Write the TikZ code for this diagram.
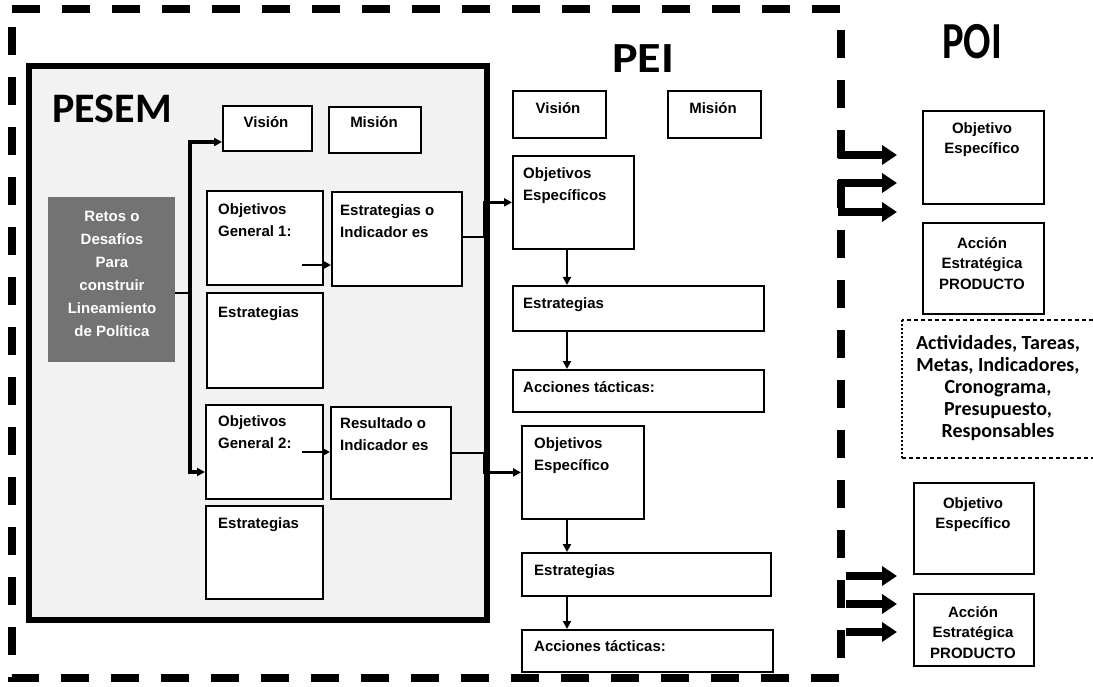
\documentclass[tikz,border=0pt]{standalone}
\usepackage{fontspec}
\setmainfont{Liberation Sans}
\newfontfamily\titlefont{Carlito}
\usetikzlibrary{arrows.meta}
\begin{document}
\begin{tikzpicture}[x=1pt,y=-1pt,
  box/.style={draw, line width=1.8pt, fill=white, anchor=north west, inner sep=0pt},
  lbl/.style={font=\bfseries\fontsize{15}{22}\selectfont, align=left, inner sep=0pt, anchor=north west},
  clbl/.style={font=\bfseries\fontsize{15}{20.5}\selectfont, align=center, inner sep=0pt, anchor=north},
  conn/.style={line width=2.5pt, -{Triangle[length=8pt,width=8pt]}},
  plain/.style={line width=2.5pt},
  block/.style={line width=8pt, -{Triangle[length=15pt,width=19pt]}},
  ttl/.style={font=\titlefont\bfseries, inner sep=0pt, anchor=base west}
]
\useasboundingbox (0,0) rectangle (1093,687);

% outer dashed frame
\draw[line width=8pt, dash pattern=on 28pt off 22pt] (12,9) -- (841,9) -- (841,678) -- (12,678) -- cycle;

% PESEM frame
\node[draw, line width=6pt, fill=gray!10, minimum width=458pt, minimum height=554pt, anchor=north west, inner sep=0pt] (pesem) at (26,63) {};
\node[ttl, font=\titlefont\bfseries\fontsize{42}{42}\selectfont] (pesemt) at (52,123) {PESEM};

% Retos box
\node[fill=black!55, minimum width=127pt, minimum height=165pt, anchor=north west, inner sep=0pt] (retos) at (48,197) {};
\node[font=\bfseries\fontsize{15}{23}\selectfont, align=center, text=white, inner sep=0pt] (retost) at (112,274) {Retos o\\Desafíos\\Para\\construir\\Lineamiento\\de Política};

% PESEM boxes
\node[box, minimum width=89pt, minimum height=45pt] (pvis) at (222,105) {};
\node[box, minimum width=92pt, minimum height=46pt] (pmis) at (328,106) {};
\node[box, minimum width=116pt, minimum height=94pt] (og1) at (206,190) {};
\node[box, minimum width=130pt, minimum height=94pt] (est1) at (331,191) {};
\node[box, minimum width=116pt, minimum height=95pt] (estA) at (206,292) {};
\node[box, minimum width=117pt, minimum height=94pt] (og2) at (205,404) {};
\node[box, minimum width=120pt, minimum height=92pt] (res) at (330,406) {};
\node[box, minimum width=117pt, minimum height=93pt] (estB) at (205,505) {};

\node[clbl] (pvist) at (266,116) {Visión};
\node[clbl] (pmist) at (374,116) {Misión};
\node[lbl] (og1t) at (218,203) {Objetivos\\General 1:};
\node[lbl] (est1t) at (340,204) {Estrategias o\\Indicador es};
\node[lbl] (estAt) at (218,306) {Estrategias};
\node[lbl] (og2t) at (218,415) {Objetivos\\General 2:};
\node[lbl] (rest) at (340,417) {Resultado o\\Indicador es};
\node[lbl] (estBt) at (218,517) {Estrategias};

% PESEM connectors
\coordinate (vtop) at (190,142);
\coordinate (vj) at (190,293);
\coordinate (vbot) at (190,472);
\draw[plain] (retos.east |- vj) -- (vj);
\draw[conn, line width=3.5pt] (vj) -- (vtop) -- (pvis.west |- vtop);
\draw[conn, line width=3.5pt] (vj) -- (vbot) -- (og2.west |- vbot);
\coordinate (a1) at (302,265);
\draw[conn] (a1) -- (est1.west |- a1);
\coordinate (a2) at (302,452);
\draw[conn] (a2) -- (res.west |- a2);

% PEI
\node[ttl, font=\titlefont\bfseries\fontsize{43}{43}\selectfont] (peit) at (612,73) {\scalebox{1.12}[1]{PEI}};
\node[box, minimum width=93pt, minimum height=47pt] (evis) at (512,90) {};
\node[box, minimum width=93pt, minimum height=47pt] (emis) at (667,90) {};
\node[box, minimum width=121pt, minimum height=93pt] (oe1) at (512,155) {};
\node[box, minimum width=251pt, minimum height=45pt] (pest1) at (512,285) {};
\node[box, minimum width=251pt, minimum height=42pt] (pact1) at (512,369) {};
\node[box, minimum width=122pt, minimum height=93pt] (oe2) at (521,425) {};
\node[box, minimum width=249pt, minimum height=43pt] (pest2) at (521,552) {};
\node[box, minimum width=251pt, minimum height=42pt] (pact2) at (521,629) {};

\node[clbl] (evist) at (558,102) {Visión};
\node[clbl] (emist) at (713,102) {Misión};
\node[lbl] (oe1t) at (523,167) {Objetivos\\Específicos};
\node[lbl] (pest1t) at (523,297) {Estrategias};
\node[lbl] (pact1t) at (523,381) {Acciones tácticas:};
\node[lbl] (oe2t) at (534,437) {Objetivos\\Específico};
\node[lbl] (pest2t) at (534,564) {Estrategias};
\node[lbl] (pact2t) at (534,640) {Acciones tácticas:};

\coordinate (c1) at (484,237);
\draw[plain] (est1.east |- c1) -- (c1);
\draw[conn] (c1) |- (oe1.west);
\coordinate (c2) at (484,453);
\draw[plain] (res.east |- c2) -- (c2);
\draw[conn] (c2) |- (oe2.west);

\coordinate (x1) at (567,0);
\draw[conn] (oe1.south -| x1) -- (pest1.north -| x1);
\draw[conn] (pest1.south -| x1) -- (pact1.north -| x1);
\draw[conn] (oe2.south -| x1) -- (pest2.north -| x1);
\draw[conn] (pest2.south -| x1) -- (pact2.north -| x1);

% POI
\node[ttl, font=\titlefont\bfseries\fontsize{52}{52}\selectfont] (poit) at (942,59) {\scalebox{0.78}[1]{POI}};
\node[box, minimum width=121pt, minimum height=93pt] (poi1) at (922,110) {};
\node[box, minimum width=121pt, minimum height=91pt] (acc1) at (922,222) {};
\node[box, minimum width=120pt, minimum height=91pt] (poi2) at (913,482) {};
\node[box, minimum width=120pt, minimum height=72pt] (acc2) at (913,593) {};

\node[clbl] (poi1t) at (982,122) {Objetivo\\Específico};
\node[clbl] (acc1t) at (982,237) {Acción\\Estratégica\\PRODUCTO};
\node[clbl] (poi2t) at (973,497) {Objetivo\\Específico};
\node[clbl] (acc2t) at (973,606) {Acción\\Estratégica\\PRODUCTO};

% dotted box
\coordinate (d1) at (1093,320);
\coordinate (d2) at (902,320);
\coordinate (d3) at (902,458);
\coordinate (d4) at (1093,458);
\draw[line width=1.3pt, dash pattern=on 4pt off 3pt] (d1) -- (d2);
\draw[line width=1.6pt, dash pattern=on 1.6pt off 2.4pt] (d2) -- (d3);
\draw[line width=1.3pt, dash pattern=on 4pt off 3pt] (d3) -- (d4);
\node[font=\titlefont\bfseries\fontsize{20}{21.8}\selectfont, align=center, inner sep=0pt] (actt) at (998,388) {Actividades, Tareas,\\Metas, Indicadores,\\Cronograma,\\Presupuesto,\\Responsables};

% block arrows
\coordinate (b1s) at (838,155); \coordinate (b1e) at (897,155);
\coordinate (b2s) at (838,183); \coordinate (b2e) at (897,183);
\coordinate (b3s) at (838,212); \coordinate (b3e) at (897,212);
\coordinate (b4s) at (846,576); \coordinate (b4e) at (897,576);
\coordinate (b5s) at (846,604); \coordinate (b5e) at (897,604);
\coordinate (b6s) at (846,632); \coordinate (b6e) at (897,632);
\foreach \s/\e in {b1s/b1e,b2s/b2e,b3s/b3e,b4s/b4e,b5s/b5e,b6s/b6e}
  \draw[block] (\s) -- (\e);
\end{tikzpicture}
\end{document}
